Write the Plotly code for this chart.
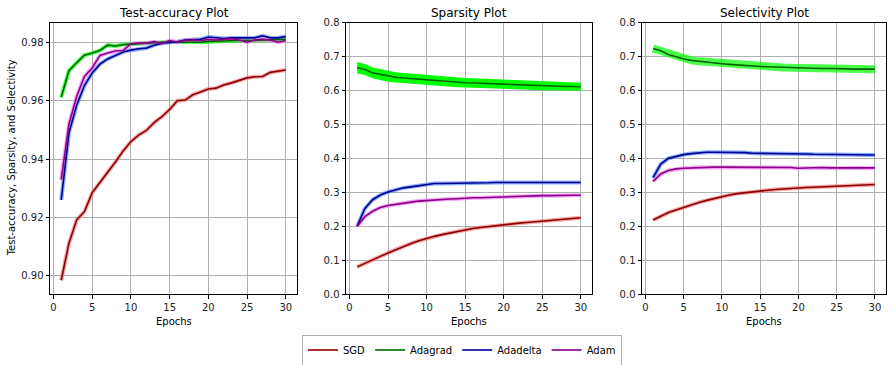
import plotly.graph_objects as go

# epochs and per-optimiser curves
epochs = list(range(1, 31))
optimisers = ["SGD", "Adagrad", "Adadelta", "Adam"]

sgd_acc = [0.8985, 0.9112, 0.9192, 0.9220, 0.9285, 0.9320, 0.9352, 0.9390, 0.9428, 0.9460,
           0.9482, 0.9498, 0.9525, 0.9545, 0.9570, 0.9600, 0.9602, 0.9620, 0.9630, 0.9640,
           0.9643, 0.9654, 0.9661, 0.9670, 0.9678, 0.9682, 0.9683, 0.9697, 0.9700, 0.9705]
adagrad_acc = [0.9612, 0.9703, 0.9730, 0.9756, 0.9763, 0.9772, 0.9790, 0.9787, 0.9792, 0.9794,
               0.9795, 0.9796, 0.9800, 0.9800, 0.9801, 0.9801, 0.9802, 0.9801, 0.9800, 0.9803,
               0.9803, 0.9804, 0.9805, 0.9806, 0.9805, 0.9806, 0.9808, 0.9808, 0.9809, 0.9810]
adadelta_acc = [0.9260, 0.9490, 0.9585, 0.9652, 0.9695, 0.9725, 0.9743, 0.9755, 0.9767, 0.9773,
                0.9778, 0.9780, 0.9790, 0.9797, 0.9800, 0.9802, 0.9808, 0.9810, 0.9810, 0.9818,
                0.9815, 0.9813, 0.9815, 0.9815, 0.9815, 0.9815, 0.9822, 0.9815, 0.9815, 0.9820]
adam_acc = [0.9330, 0.9520, 0.9615, 0.9683, 0.9712, 0.9755, 0.9763, 0.9770, 0.9772, 0.9795,
            0.9797, 0.9797, 0.9802, 0.9795, 0.9806, 0.9800, 0.9806, 0.9808, 0.9805, 0.9810,
            0.9808, 0.9810, 0.9812, 0.9808, 0.9800, 0.9808, 0.9810, 0.9808, 0.9800, 0.9805]

sgd_sp = [0.080, 0.091, 0.101, 0.111, 0.121, 0.131, 0.141, 0.149, 0.157, 0.164,
          0.170, 0.175, 0.180, 0.185, 0.189, 0.193, 0.196, 0.199, 0.202, 0.205,
          0.207, 0.209, 0.211, 0.213, 0.215, 0.217, 0.219, 0.221, 0.223, 0.225]
adagrad_sp = [0.667, 0.662, 0.652, 0.647, 0.642, 0.639, 0.637, 0.635, 0.633, 0.631,
              0.629, 0.627, 0.626, 0.624, 0.623, 0.622, 0.621, 0.620, 0.619, 0.618,
              0.617, 0.617, 0.616, 0.615, 0.614, 0.614, 0.613, 0.612, 0.612, 0.611]
adagrad_sp_std = [0.017, 0.016, 0.016, 0.016, 0.016, 0.015, 0.015, 0.015, 0.015, 0.015,
                  0.015, 0.014, 0.014, 0.014, 0.014, 0.014, 0.014, 0.014, 0.013, 0.013,
                  0.013, 0.013, 0.013, 0.013, 0.013, 0.013, 0.012, 0.012, 0.012, 0.012]
adadelta_sp = [0.200, 0.252, 0.278, 0.292, 0.301, 0.308, 0.313, 0.316, 0.320, 0.324,
               0.326, 0.326, 0.326, 0.326, 0.327, 0.328, 0.328, 0.328, 0.329, 0.329,
               0.329, 0.329, 0.328, 0.329, 0.329, 0.329, 0.329, 0.329, 0.329, 0.329]
adam_sp = [0.200, 0.228, 0.244, 0.255, 0.261, 0.265, 0.269, 0.271, 0.274, 0.276,
           0.278, 0.279, 0.280, 0.281, 0.283, 0.284, 0.284, 0.285, 0.286, 0.286,
           0.287, 0.288, 0.289, 0.289, 0.290, 0.290, 0.291, 0.291, 0.291, 0.291]

sgd_sel = [0.218, 0.230, 0.240, 0.248, 0.256, 0.263, 0.270, 0.276, 0.282, 0.287,
           0.292, 0.296, 0.299, 0.302, 0.304, 0.306, 0.308, 0.310, 0.311, 0.313,
           0.314, 0.315, 0.316, 0.317, 0.318, 0.319, 0.320, 0.321, 0.322, 0.323]
adagrad_sel = [0.724, 0.717, 0.706, 0.699, 0.693, 0.689, 0.686, 0.684, 0.681, 0.679,
               0.677, 0.675, 0.674, 0.673, 0.671, 0.670, 0.669, 0.668, 0.667, 0.667,
               0.666, 0.666, 0.665, 0.665, 0.664, 0.664, 0.664, 0.663, 0.663, 0.663]
adadelta_sel = [0.343, 0.383, 0.400, 0.406, 0.411, 0.414, 0.417, 0.418, 0.418, 0.418,
                0.419, 0.418, 0.417, 0.415, 0.415, 0.415, 0.414, 0.414, 0.413, 0.413,
                0.413, 0.412, 0.412, 0.412, 0.410, 0.411, 0.411, 0.410, 0.410, 0.410]
adam_sel = [0.332, 0.354, 0.364, 0.369, 0.371, 0.372, 0.374, 0.373, 0.374, 0.374,
            0.374, 0.373, 0.373, 0.372, 0.374, 0.373, 0.373, 0.372, 0.373, 0.371,
            0.372, 0.372, 0.373, 0.372, 0.371, 0.372, 0.372, 0.372, 0.371, 0.372]

line_colors = {"SGD": "#8b0000", "Adagrad": "#006400", "Adadelta": "#00008b", "Adam": "#8b008b"}
band_colors = {"SGD": "#f08080", "Adagrad": "#00ff00", "Adadelta": "#5a8cff", "Adam": "#ee82ee"}
legend_colors = {"SGD": "#b03030", "Adagrad": "#2e8b2e", "Adadelta": "#3030b0", "Adam": "#a030a8"}

panels = [
    ("Test-accuracy Plot", {"SGD": sgd_acc, "Adagrad": adagrad_acc, "Adadelta": adadelta_acc, "Adam": adam_acc}),
    ("Sparsity Plot", {"SGD": sgd_sp, "Adagrad": adagrad_sp, "Adadelta": adadelta_sp, "Adam": adam_sp}),
    ("Selectivity Plot", {"SGD": sgd_sel, "Adagrad": adagrad_sel, "Adadelta": adadelta_sel, "Adam": adam_sel}),
]

W, H = 894, 365
x_dom = [(50 / W, 297 / W), (346 / W, 592 / W), (642 / W, 886 / W)]
y_dom = (1 - 294 / H, 1 - 22.7 / H)
y_ranges = [(0.8938, 0.9867), (0, 0.8), (0, 0.8)]

fig = go.Figure()
font = "DejaVu Sans, Arial, sans-serif"

for i, (title, series) in enumerate(panels):
    ax = "" if i == 0 else str(i + 1)
    xref, yref = "x" + ax, "y" + ax
    # light spread bands under each mean curve
    for name in optimisers:
        vals = series[name]
        if i == 1 and name == "Adagrad":
            upper = [v + s for v, s in zip(vals, adagrad_sp_std)]
            lower = [v - s for v, s in zip(vals, adagrad_sp_std)]
            fig.add_trace(go.Scatter(x=epochs, y=upper, mode="lines", line=dict(width=0, color=band_colors[name]),
                                     xaxis=xref, yaxis=yref, showlegend=False, hoverinfo="skip"))
            fig.add_trace(go.Scatter(x=epochs, y=lower, mode="lines", line=dict(width=0, color=band_colors[name]),
                                     fill="tonexty", fillcolor=band_colors[name],
                                     xaxis=xref, yaxis=yref, showlegend=False, hoverinfo="skip"))
        else:
            w = 8 if (i == 2 and name == "Adagrad") else 4
            fig.add_trace(go.Scatter(x=epochs, y=vals, mode="lines",
                                     line=dict(width=w, color=band_colors[name]), opacity=0.7,
                                     xaxis=xref, yaxis=yref, showlegend=False, hoverinfo="skip"))
    for name in optimisers:
        fig.add_trace(go.Scatter(x=epochs, y=series[name], mode="lines", name=name,
                                 line=dict(width=1.6, color=line_colors[name]),
                                 xaxis=xref, yaxis=yref, showlegend=False))

    axis_common = dict(showline=True, linecolor="black", linewidth=1, mirror=True,
                       ticks="outside", ticklen=3.5, tickcolor="black",
                       showgrid=True, gridcolor="#b0b0b0", gridwidth=1, zeroline=False,
                       automargin=False,
                       tickfont=dict(size=10, color="#222", family=font))
    fig.update_layout(**{
        "xaxis" + ax: dict(domain=x_dom[i], range=[-0.45, 31.45], tickvals=[0, 5, 10, 15, 20, 25, 30],
                           anchor=yref, **axis_common),
        "yaxis" + ax: dict(domain=y_dom, range=list(y_ranges[i]), anchor=xref,
                           tickvals=[0.90, 0.92, 0.94, 0.96, 0.98] if i == 0 else [0, 0.1, 0.2, 0.3, 0.4, 0.5, 0.6, 0.7, 0.8],
                           tickformat=".2f" if i == 0 else ".1f", **axis_common),
    })
    cx = (x_dom[i][0] + x_dom[i][1]) / 2
    fig.add_annotation(text=title, x=cx, y=1 - 13 / H, xref="paper", yref="paper", showarrow=False,
                       font=dict(size=12, color="black", family=font), xanchor="center", yanchor="middle")
    fig.add_annotation(text="Epochs", x=cx, y=1 - 321 / H, xref="paper", yref="paper", showarrow=False,
                       font=dict(size=10, color="black", family=font), xanchor="center", yanchor="middle")

fig.add_annotation(text="Test-accuracy, Sparsity, and Selectivity", x=11 / W, y=(y_dom[0] + y_dom[1]) / 2,
                   xref="paper", yref="paper", showarrow=False, textangle=-90,
                   font=dict(size=10, color="black", family=font), xanchor="center", yanchor="middle")

# legend-only entries
for name in optimisers:
    fig.add_trace(go.Scatter(x=[None], y=[None], mode="lines", name=name,
                             line=dict(width=2, color=legend_colors[name])))

fig.update_layout(
    width=W, height=H,
    margin=dict(l=0, r=0, t=0, b=0, autoexpand=False),
    paper_bgcolor="white", plot_bgcolor="white",
    showlegend=True,
    legend=dict(orientation="h", x=462 / W, y=1 - 350 / H, xanchor="center", yanchor="middle",
                traceorder="normal",
                bordercolor="#b0b0b0", borderwidth=1, bgcolor="white",
                font=dict(size=10, color="black", family=font), itemwidth=30),
)

fig.write_html("out.html", config={"displayModeBar": False},
               post_script="document.body.style.margin='0';")
